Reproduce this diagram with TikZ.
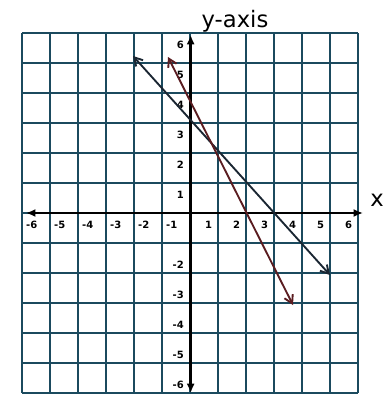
\documentclass[tikz,border=0pt]{standalone}
\usepackage{fontspec}
\setmainfont{DejaVu Sans}
\usetikzlibrary{arrows.meta}
\definecolor{gridc}{HTML}{1B4A5E}
\definecolor{lineA}{HTML}{1A2632}
\definecolor{lineB}{HTML}{5A1C20}
\begin{document}
\begin{tikzpicture}[x=0.75pt,y=-0.75pt,
  gridline/.style={draw=gridc,line width=1.8pt},
  axisline/.style={draw=black,line width=2pt,-{Latex[length=7pt,width=6pt]}},
  graphline/.style={line width=1.4pt,{Straight Barb[length=6pt,width=7pt]}-{Straight Barb[length=6pt,width=7pt]}},
  tick/.style={font=\fontsize{7.5}{8}\selectfont\bfseries,inner sep=0pt},
  title/.style={font=\fontsize{17}{19}\selectfont,inner sep=0pt}]
\useasboundingbox (0,0) rectangle (388,397);
\fill[white] (0,0) rectangle (388,397);
% grid
\foreach \i in {0,...,12} {
  \draw[gridline] (22+28*\i,33) -- (22+28*\i,393);
  \draw[gridline] (22,33+30*\i) -- (358,33+30*\i);
}
% axes
\coordinate (o) at (190.7,213);
\coordinate (xL) at (26,213);
\coordinate (xR) at (363,213);
\coordinate (yT) at (190.7,35);
\coordinate (yB) at (190.7,393);
\draw[axisline] (o) -- (xL);
\draw[axisline] (o) -- (xR);
\draw[axisline] (o) -- (yT);
\draw[axisline] (o) -- (yB);
% x labels
\foreach \v in {-6,...,-1} {
  \node[tick] (xt\v) at ({190.7+28*\v+9},225) {-\the\numexpr-\v\relax};
}
\foreach \v in {1,...,6} {
  \node[tick] (xp\v) at ({190.7+28*\v-10},225) {\v};
}
% y labels
\foreach \v in {1,...,6} {
  \node[tick,anchor=east] (yp\v) at (184,{213-30*\v+12}) {\v};
}
\foreach \v in {-6,...,-2} {
  \node[tick,anchor=east] (yn\v) at (184,{213-30*\v-8}) {-\the\numexpr-\v\relax};
}
% graph lines
\coordinate (a1) at (133,56);
\coordinate (a2) at (330,275);
\coordinate (b1) at (168,57);
\coordinate (b2) at (293,305);
\draw[graphline,lineA] (a1) -- (a2);
\draw[graphline,lineB] (b1) -- (b2);
% titles
\node[title] (ytitle) at (235,21) {y-axis};
\node[title,anchor=west] (xtitle) at (370,200) {x};
\end{tikzpicture}
\end{document}
